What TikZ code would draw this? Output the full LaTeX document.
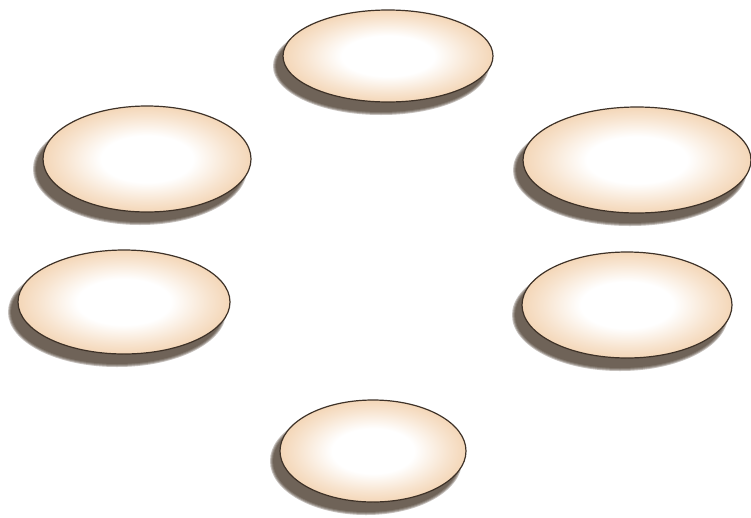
\documentclass[tikz,border=0pt]{standalone}
\usetikzlibrary{shapes.geometric}
\definecolor{peach}{RGB}{240,201,160}
\definecolor{rimcol}{RGB}{62,50,40}
\definecolor{shadecol}{RGB}{74,58,44}
\pgfdeclareradialshading{discshade}{\pgfpoint{0bp}{0bp}}{%
  color(0bp)=(white); color(11bp)=(white); color(20bp)=(peach!50!white); color(30bp)=(peach); color(50bp)=(peach)}
\tikzset{
  disc/.style={ellipse, draw=rimcol, line width=1.2pt, shading=discshade, inner sep=0pt, outer sep=0pt},
  shadowlayer/.style={fill=shadecol, fill opacity=0.32, draw=none}
}
\newcommand\mydisc[5]{%
  % #1 name, #2 x, #3 y, #4 rx, #5 ry
  \foreach \d in {3,2,1,0}{%
    \fill[shadowlayer] (#2-7,#3+10) ellipse [x radius={(#4+\d)*1pt}, y radius={(#5+\d)*1pt}];
  }
  \node[disc, minimum width={2*#4 pt}, minimum height={2*#5 pt}] (#1) at (#2,#3) {};
}
\begin{document}
\begin{tikzpicture}[x=1pt,y=-1pt]
\useasboundingbox[fill=white] (0,0) rectangle (751,517);
\mydisc{top}{388}{56}{105}{46}
\mydisc{ul}{147}{159}{104}{53}
\mydisc{ur}{637}{160}{114}{53}
\mydisc{ll}{124}{302}{106}{52}
\mydisc{lr}{627}{305}{105}{53}
\mydisc{bot}{373}{451}{93}{51}
\end{tikzpicture}
\end{document}
